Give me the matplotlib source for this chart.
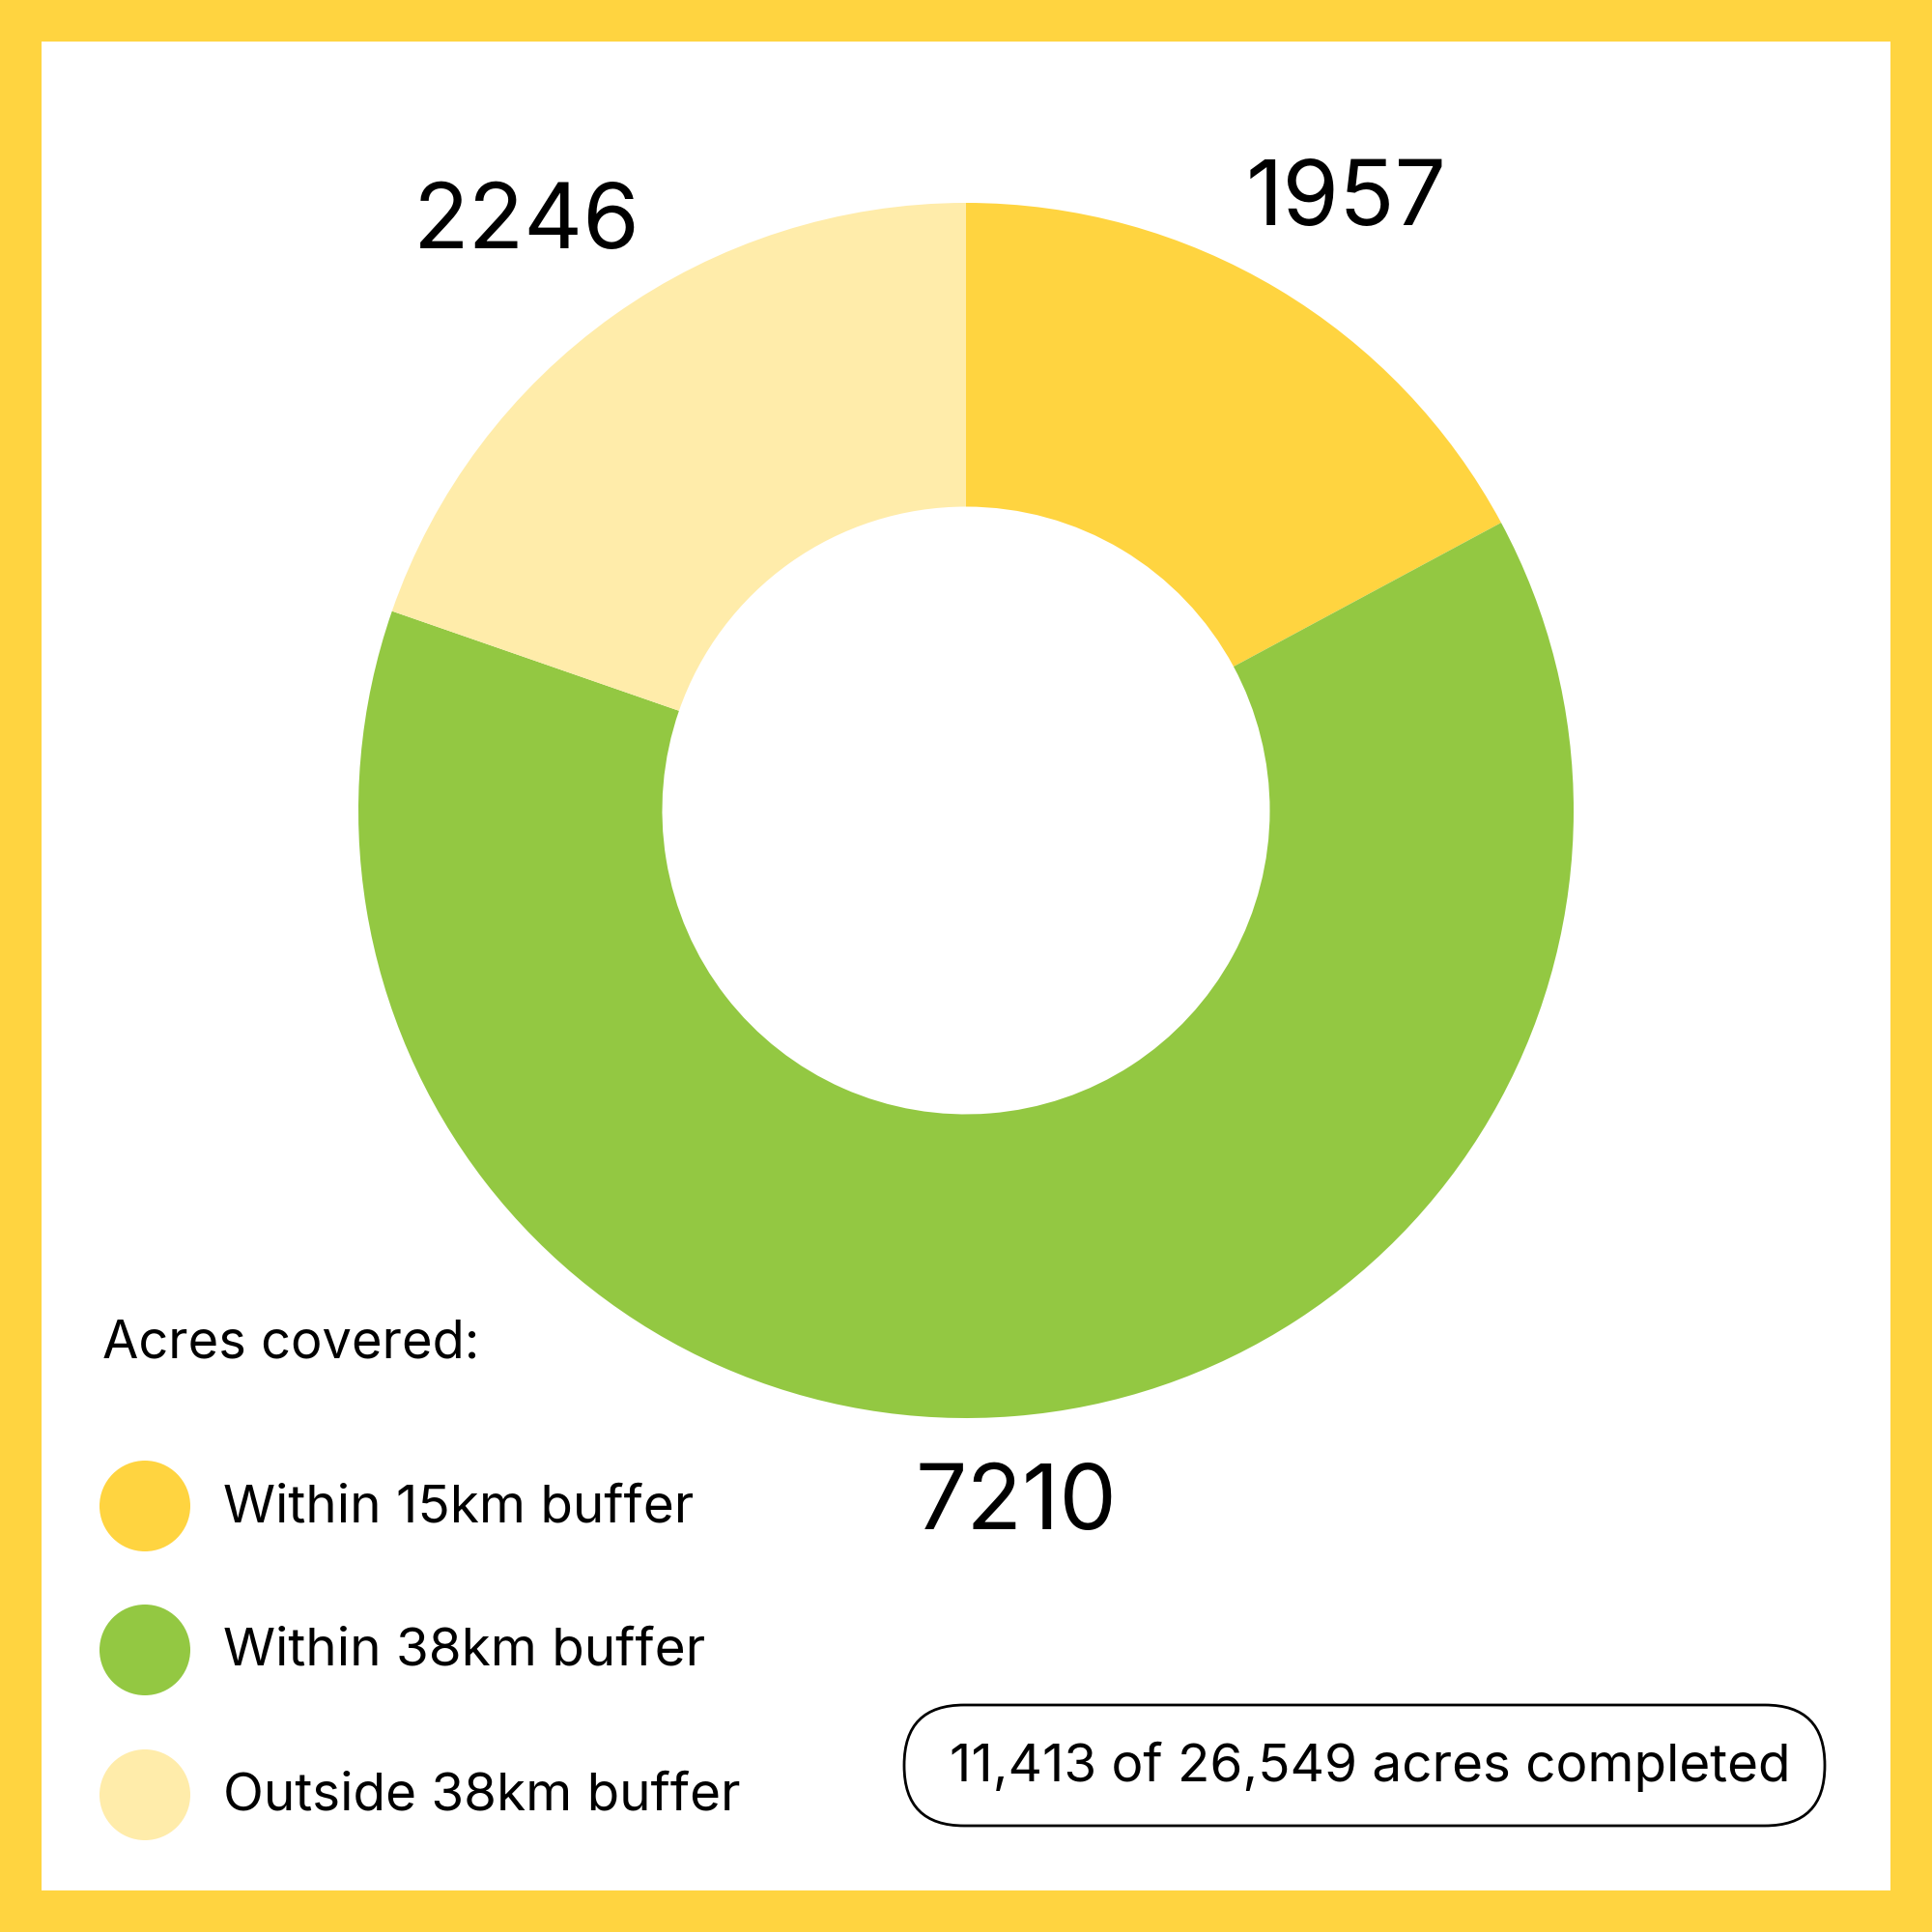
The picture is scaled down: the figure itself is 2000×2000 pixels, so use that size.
import matplotlib.pyplot as plt
from matplotlib.patches import Circle, FancyBboxPatch, Rectangle

plt.rcParams['font.family'] = ['Inter', 'DejaVu Sans']

# Data
categories = ['Within 15km buffer', 'Within 38km buffer', 'Outside 38km buffer']
acres = [1957, 7210, 2246]
colors = ['#FFD440', '#93C842', '#FFECAA']
completed = 11413
total = 26549

fig = plt.figure(figsize=(20, 20), dpi=100)
fig.patch.set_facecolor('#FFD440')

# white panel inside the yellow border
bg = fig.add_axes([0, 0, 1, 1])
bg.set_xlim(0, 2000)
bg.set_ylim(2000, 0)
bg.axis('off')
bg.add_patch(Rectangle((43, 43), 1914, 1914, facecolor='white', edgecolor='none'))

# donut
cx, cy, r = 1000, 839, 629
ax = fig.add_axes([(cx - r) / 2000, (2000 - cy - r) / 2000, 2 * r / 2000, 2 * r / 2000])
ax.pie(acres, colors=colors, startangle=90, counterclock=False,
       wedgeprops=dict(width=0.5, edgecolor='none'), radius=1)
ax.set_xlim(-1, 1)
ax.set_ylim(-1, 1)
ax.axis('off')

# value labels
label_pos = [(1393, 209), (1052, 1559), (545, 233)]
for v, (x, y) in zip(acres, label_pos):
    bg.text(x, y, str(v), fontsize=68, ha='center', va='center', color='black')

# legend
bg.text(106, 1391, 'Acres covered:', fontsize=39, ha='left', va='center')
leg_y = [1559, 1708, 1858]
for name, c, y in zip(categories, colors, leg_y):
    bg.add_patch(Circle((150, y), 47, facecolor=c, edgecolor='none'))
    bg.text(231, y + 2, name, fontsize=39.5, ha='left', va='center')

# summary pill
bg.add_patch(FancyBboxPatch((936, 1765), 953, 125,
                            boxstyle='round,pad=0,rounding_size=62',
                            facecolor='white', edgecolor='black', linewidth=2))
bg.text(983, 1829, f'{completed:,} of {total:,} acres completed',
        fontsize=39.5, ha='left', va='center')

plt.savefig('out.png', dpi=100, facecolor=fig.get_facecolor())
